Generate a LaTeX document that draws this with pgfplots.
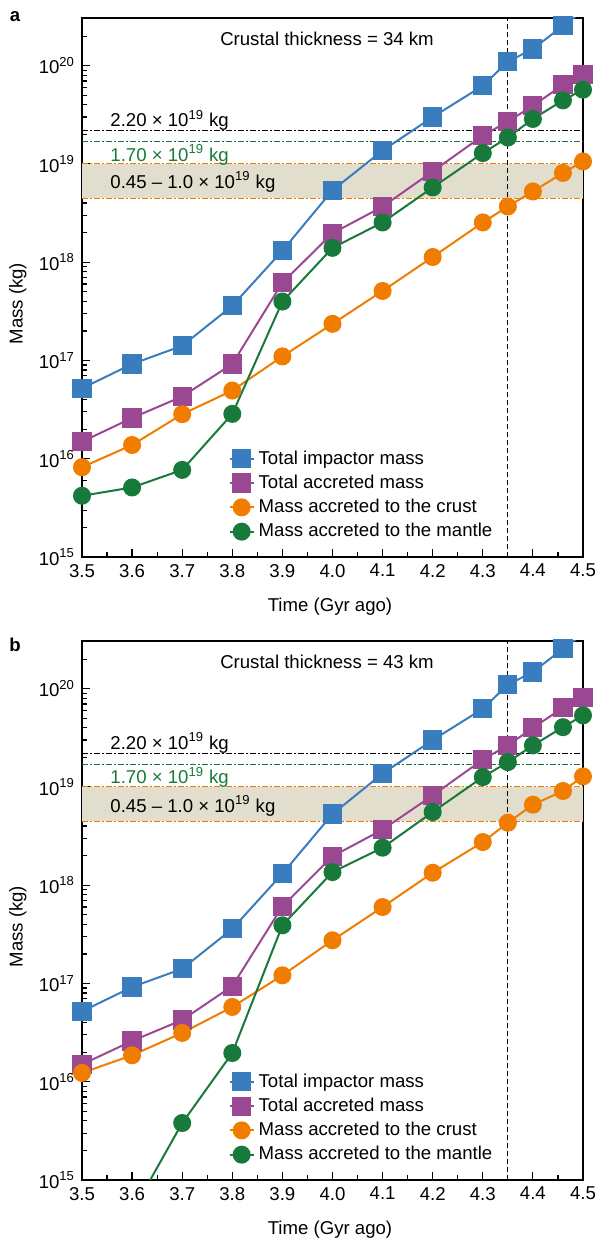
\documentclass[border=0pt]{standalone}
\usepackage{fontspec}
\setmainfont{Liberation Sans}
\usepackage{pgfplots}
\pgfplotsset{compat=1.18}

\definecolor{cblue}{RGB}{58,125,190}
\definecolor{cmag}{RGB}{155,72,147}
\definecolor{corange}{RGB}{240,124,0}
\definecolor{cgreen}{RGB}{23,122,58}
\definecolor{bandcol}{RGB}{226,222,205}

\newcommand{\fsz}{\fontsize{9.3}{11}\selectfont}

\pgfplotsset{
  legend image code/.code={\draw[#1, mark repeat=2, mark phase=2]
    plot coordinates {(0pt,0pt) (6pt,0pt) (12pt,0pt)};},
  every axis/.append style={
    scale only axis, width=250.5pt, height=269.5pt,
    xmin=3.5, xmax=4.5, ymin=1e15, ymax=3.06e20,
    xtick={3.5,3.6,3.7,3.8,3.9,4.0,4.1,4.2,4.3,4.4,4.5},
    xticklabels={3.5,3.6,3.7,3.8,3.9,4.0,4.1,4.2,4.3,4.4,4.5},
    minor xtick={3.55,3.65,3.75,3.85,3.95,4.05,4.15,4.25,4.35,4.45},
    ytick={1e15,1e16,1e17,1e18,1e19,1e20},
    yticklabels={10\textsuperscript{15},10\textsuperscript{16},10\textsuperscript{17},10\textsuperscript{18},10\textsuperscript{19},10\textsuperscript{20}},
    minor ytick={2e15,3e15,4e15,5e15,6e15,7e15,8e15,9e15,2e16,3e16,4e16,5e16,6e16,7e16,8e16,9e16,2e17,3e17,4e17,5e17,6e17,7e17,8e17,9e17,2e18,3e18,4e18,5e18,6e18,7e18,8e18,9e18,2e19,3e19,4e19,5e19,6e19,7e19,8e19,9e19,2e20,3e20},
    tick align=inside, xtick pos=bottom, ytick pos=left,
    major tick length=4pt, minor tick length=2.5pt,
    tick style={black, line width=0.6pt},
    axis line style={line width=0.8pt},
    tick label style={font=\fsz},
    label style={font=\fsz},
    xlabel={Time (Gyr ago)}, ylabel={Mass (kg)},
    xlabel style={at={(axis description cs:0.495,-0.093)}, anchor=center},
    ylabel style={at={(axis description cs:-0.128,0.47)}, anchor=center},
    legend style={draw=none, fill=none, font=\fsz,
      at={(axis description cs:0.28,0.213)}, anchor=north west,
      row sep=-0.1pt},
    legend cell align=left,
  },
  sqm/.style={line width=1pt, mark=square*, mark size=4.3pt, mark options={solid}},
  cim/.style={line width=1pt, mark=*, mark size=4pt, mark options={solid}},
  hln/.style={line width=0.5pt, dash pattern=on 3pt off 1.2pt on 0.6pt off 1.2pt},
}

\begin{document}
\begin{tikzpicture}
% ---------------- panel a ----------------
\begin{semilogyaxis}
\addplot[forget plot, fill=bandcol, draw=none] coordinates {(3.5,4.5e18) (4.5,4.5e18) (4.5,1e19) (3.5,1e19)} -- cycle;
\addplot[forget plot, hln, corange] coordinates {(3.5,1e19) (4.5,1e19)};
\addplot[forget plot, hln, corange] coordinates {(3.5,4.5e18) (4.5,4.5e18)};
\addplot[forget plot, hln, black] coordinates {(3.5,2.2e19) (4.5,2.2e19)};
\addplot[forget plot, hln, cgreen] coordinates {(3.5,1.7e19) (4.5,1.7e19)};
\addplot[forget plot, black, line width=0.5pt, dash pattern=on 2.5pt off 1.5pt] coordinates {(4.35,1e15) (4.35,3.06e20)};

\addplot[sqm, cblue] coordinates {
  (3.5,5.2e16) (3.6,9.2e16) (3.7,1.41e17) (3.8,3.6e17) (3.9,1.31e18)
  (4.0,5.4e18) (4.1,1.37e19) (4.2,3.0e19) (4.3,6.25e19) (4.35,1.1e20)
  (4.4,1.48e20) (4.46,2.55e20) (4.5,3.6e20)};
\addlegendentry{Total impactor mass}
\addplot[sqm, cmag] coordinates {
  (3.5,1.49e16) (3.6,2.6e16) (3.7,4.3e16) (3.8,9.2e16) (3.9,6.2e17)
  (4.0,1.97e18) (4.1,3.68e18) (4.2,8.4e18) (4.3,1.94e19) (4.35,2.71e19)
  (4.4,3.9e19) (4.46,6.4e19) (4.5,8.1e19)};
\addlegendentry{Total accreted mass}
\addplot[cim, corange] coordinates {
  (3.5,8.2e15) (3.6,1.38e16) (3.7,2.84e16) (3.8,4.94e16) (3.9,1.1e17)
  (4.0,2.36e17) (4.1,5.1e17) (4.2,1.13e18) (4.3,2.54e18) (4.35,3.69e18)
  (4.4,5.25e18) (4.46,8.1e18) (4.5,1.06e19)};
\addlegendentry{Mass accreted to the crust}
\addplot[cim, cgreen] coordinates {
  (3.5,4.2e15) (3.6,5.1e15) (3.7,7.7e15) (3.8,2.86e16) (3.9,3.98e17)
  (4.0,1.4e18) (4.1,2.54e18) (4.2,5.77e18) (4.3,1.29e19) (4.35,1.86e19)
  (4.4,2.87e19) (4.46,4.44e19) (4.5,5.7e19)};
\addlegendentry{Mass accreted to the mantle}

\node[font=\fsz, anchor=base west, inner sep=0pt, yshift=1.7pt] at (axis cs:3.556,2.2e19) {2.20 × 10\textsuperscript{19} kg};
\node[font=\fsz, anchor=base west, inner sep=0pt, yshift=-10pt, text=cgreen] at (axis cs:3.556,1.7e19) {1.70 × 10\textsuperscript{19} kg};
\node[font=\fsz, anchor=base west, inner sep=0pt, yshift=-12.2pt] at (axis cs:3.556,1e19) {0.45 – 1.0 × 10\textsuperscript{19} kg};
\node[font=\fsz] at (rel axis cs:0.489,0.961) {Crustal thickness = 34 km};
\end{semilogyaxis}

% ---------------- panel b ----------------
\begin{semilogyaxis}[at={(0pt,-311.5pt)}]
\addplot[forget plot, fill=bandcol, draw=none] coordinates {(3.5,4.5e18) (4.5,4.5e18) (4.5,1e19) (3.5,1e19)} -- cycle;
\addplot[forget plot, hln, corange] coordinates {(3.5,1e19) (4.5,1e19)};
\addplot[forget plot, hln, corange] coordinates {(3.5,4.5e18) (4.5,4.5e18)};
\addplot[forget plot, hln, black] coordinates {(3.5,2.2e19) (4.5,2.2e19)};
\addplot[forget plot, hln, cgreen] coordinates {(3.5,1.7e19) (4.5,1.7e19)};
\addplot[forget plot, black, line width=0.5pt, dash pattern=on 2.5pt off 1.5pt] coordinates {(4.35,1e15) (4.35,3.06e20)};

\addplot[sqm, cblue] coordinates {
  (3.5,5.2e16) (3.6,9.2e16) (3.7,1.41e17) (3.8,3.6e17) (3.9,1.31e18)
  (4.0,5.3e18) (4.1,1.37e19) (4.2,3.0e19) (4.3,6.25e19) (4.35,1.1e20)
  (4.4,1.48e20) (4.46,2.55e20) (4.5,3.6e20)};
\addlegendentry{Total impactor mass}
\addplot[sqm, cmag] coordinates {
  (3.5,1.5e16) (3.6,2.6e16) (3.7,4.25e16) (3.8,9.4e16) (3.9,6.1e17)
  (4.0,1.97e18) (4.1,3.68e18) (4.2,8.2e18) (4.3,1.9e19) (4.35,2.65e19)
  (4.4,4.0e19) (4.46,6.4e19) (4.5,8.1e19)};
\addlegendentry{Total accreted mass}
\addplot[cim, corange] coordinates {
  (3.5,1.23e16) (3.6,1.86e16) (3.7,3.14e16) (3.8,5.77e16) (3.9,1.21e17)
  (4.0,2.75e17) (4.1,6.0e17) (4.2,1.34e18) (4.3,2.75e18) (4.35,4.33e18)
  (4.4,6.6e18) (4.46,9.1e18) (4.5,1.28e19)};
\addlegendentry{Mass accreted to the crust}
\addplot[cim, cgreen] coordinates {
  (3.6,4.7e14) (3.7,3.8e15) (3.8,1.96e16) (3.9,3.91e17)
  (4.0,1.36e18) (4.1,2.41e18) (4.2,5.56e18) (4.3,1.26e19) (4.35,1.79e19)
  (4.4,2.65e19) (4.46,4.06e19) (4.5,5.35e19)};
\addlegendentry{Mass accreted to the mantle}

\node[font=\fsz, anchor=base west, inner sep=0pt, yshift=2pt] at (axis cs:3.556,2.2e19) {2.20 × 10\textsuperscript{19} kg};
\node[font=\fsz, anchor=base west, inner sep=0pt, yshift=-9.8pt, text=cgreen] at (axis cs:3.556,1.7e19) {1.70 × 10\textsuperscript{19} kg};
\node[font=\fsz, anchor=base west, inner sep=0pt, yshift=-12.6pt] at (axis cs:3.556,1e19) {0.45 – 1.0 × 10\textsuperscript{19} kg};
\node[font=\fsz] at (rel axis cs:0.489,0.962) {Crustal thickness = 43 km};
\end{semilogyaxis}

\node[font=\bfseries\fsz] at (-33.5pt,270pt) {a};
\node[font=\bfseries\fsz] at (-33.5pt,-44pt) {b};

\pgfresetboundingbox
\path (-41pt,278.5pt) rectangle (258pt,-341pt);
\end{tikzpicture}
\end{document}
